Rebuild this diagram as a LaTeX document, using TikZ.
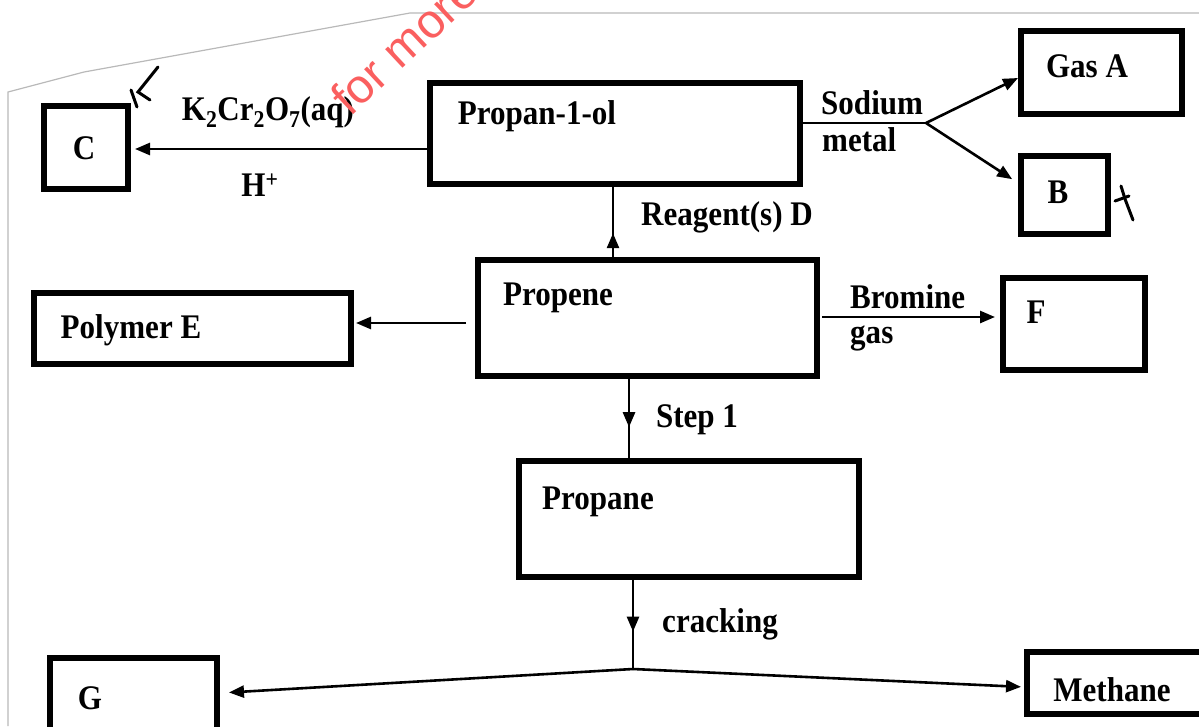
\documentclass[tikz,border=0pt]{standalone}
\usepackage{fontspec}
\setmainfont{Liberation Serif}[FakeStretch=0.9]
\newfontfamily\wmfont{Liberation Sans}
\usetikzlibrary{arrows.meta,decorations.markings}
\definecolor{wmred}{RGB}{250,95,95}
\definecolor{pageline}{RGB}{185,185,185}
\begin{document}
\begin{tikzpicture}[x=1pt,y=-1pt,
  box/.style={draw, line width=6pt, inner sep=0pt},
  txt/.style={font=\fontsize{34.5}{38}\selectfont\bfseries, inner sep=0pt},
  conn/.style={line width=2.6pt},
  tip/.style={-{Triangle[length=15pt,width=12pt]}},
  midtip/.style={postaction=decorate, decoration={markings, mark=at position #1 with {\arrow{Triangle[length=15pt,width=12pt]}}}},
  tick/.style={line width=3pt, line cap=round},
]
\useasboundingbox (0,0) rectangle (1199,726);
\clip (0,0) rectangle (1199,726);

% scanned page border
\draw[pageline, line width=1.2pt] (8,726) -- (8,92) -- (84,72) -- (410,13) -- (1199,13);

% boxes
\node[box, minimum width=84pt,  minimum height=83pt]  (C)       at (86,147.5)   {};
\node[box, minimum width=370pt, minimum height=101pt] (pol)     at (615,133.5)  {};
\node[box, minimum width=161pt, minimum height=83pt]  (gasA)    at (1101.5,72.5){};
\node[box, minimum width=87pt,  minimum height=78pt]  (B)       at (1064.5,195) {};
\node[box, minimum width=317pt, minimum height=71pt]  (polyE)   at (192.5,328.5){};
\node[box, minimum width=339pt, minimum height=116pt] (propene) at (647.5,318)  {};
\node[box, minimum width=142pt, minimum height=92pt]  (F)       at (1074,324)   {};
\node[box, minimum width=340pt, minimum height=116pt] (propane) at (689,519)    {};
\node[box, minimum width=167pt, minimum height=79pt]  (G)       at (133.5,697.5){};
\node[box, minimum width=185pt, minimum height=62pt]  (methane) at (1119.5,683) {};

% box texts
\node[txt] (tC)       at (84,148)   {C};
\node[txt] (tpol)     at (537,116)  {Propan-1-ol};
\node[txt] (tgasA)    at (1087,66)  {Gas A};
\node[txt] (tB)       at (1058,192) {B};
\node[txt] (tpolyE)   at (131,330)  {Polymer E};
\node[txt] (tpropene) at (558,298)  {Propene};
\node[txt] (tF)       at (1036,312) {F};
\node[txt] (tpropane) at (598,502)  {Propane};
\node[txt] (tG)       at (90,698)   {G};
\node[txt] (tmethane) at (1112,690) {Methane};

% connector labels
\node[txt] (lK)     at (268,112) {K\textsubscript{2}Cr\textsubscript{2}O\textsubscript{7}(aq)};
\node[txt] (lH)     at (260,185) {H\textsuperscript{+}};
\node[txt, anchor=west] (lsod) at (821,103) {Sodium};
\node[txt, anchor=west] (lmet) at (822,140) {metal};
\node[txt] (lreag)  at (727,217) {Reagent(s) D};
\node[txt, anchor=west] (lbr)  at (850,297) {Bromine};
\node[txt, anchor=west] (lgas) at (850,338) {gas};
\node[txt] (lstep)  at (697,420) {Step 1};
\node[txt] (lcrack) at (720,624) {cracking};

% helper coordinates
\coordinate (na) at (926,123);
\coordinate (jn) at (633,669);
\coordinate (xr) at (613,0);
\coordinate (xs) at (629,0);

% connectors
\draw[conn, tip, shorten >=4pt] (pol.west |- 0,149) -- (C.east |- 0,149);
\draw[conn] (pol.east |- na) -- (na);
\draw[conn, tip] (na) -- (gasA.west |- 0,78);
\draw[conn, tip, shorten >=7pt] (na) -- (B.west |- 0,183);
\draw[conn, midtip=0.34] (propene.north -| xr) -- (pol.south -| xr);
\draw[conn, tip, shorten <=9pt, shorten >=2pt] (propene.west |- 0,323) -- (polyE.east |- 0,323);
\draw[conn, tip, shorten <=2pt, shorten >=5pt] (propene.east |- 0,317) -- (F.west |- 0,317);
\draw[conn, midtip=0.61] (propene.south -| xs) -- (propane.north -| xs);
\draw[conn, midtip=0.58] (propane.south -| jn) -- (jn);
\draw[conn, tip, shorten >=9pt] (jn) -- (G.east |- 0,693);
\draw[conn, tip, shorten >=3pt] (jn) -- (methane.west |- 0,687);

% handwritten ticks
\draw[tick] (158,67) -- (138,92) -- (150,100);
\draw[tick] (131,90) -- (137,107);
\draw[tick] (1121,186) -- (1125,199) -- (1133,220);
\draw[tick] (1115,201) -- (1129,196);

% watermark
\node[font=\wmfont\fontsize{48}{52}\selectfont, text=wmred, rotate=43, anchor=base west, inner sep=0pt] (wm) at (350,118) {for more};
\end{tikzpicture}
\end{document}
